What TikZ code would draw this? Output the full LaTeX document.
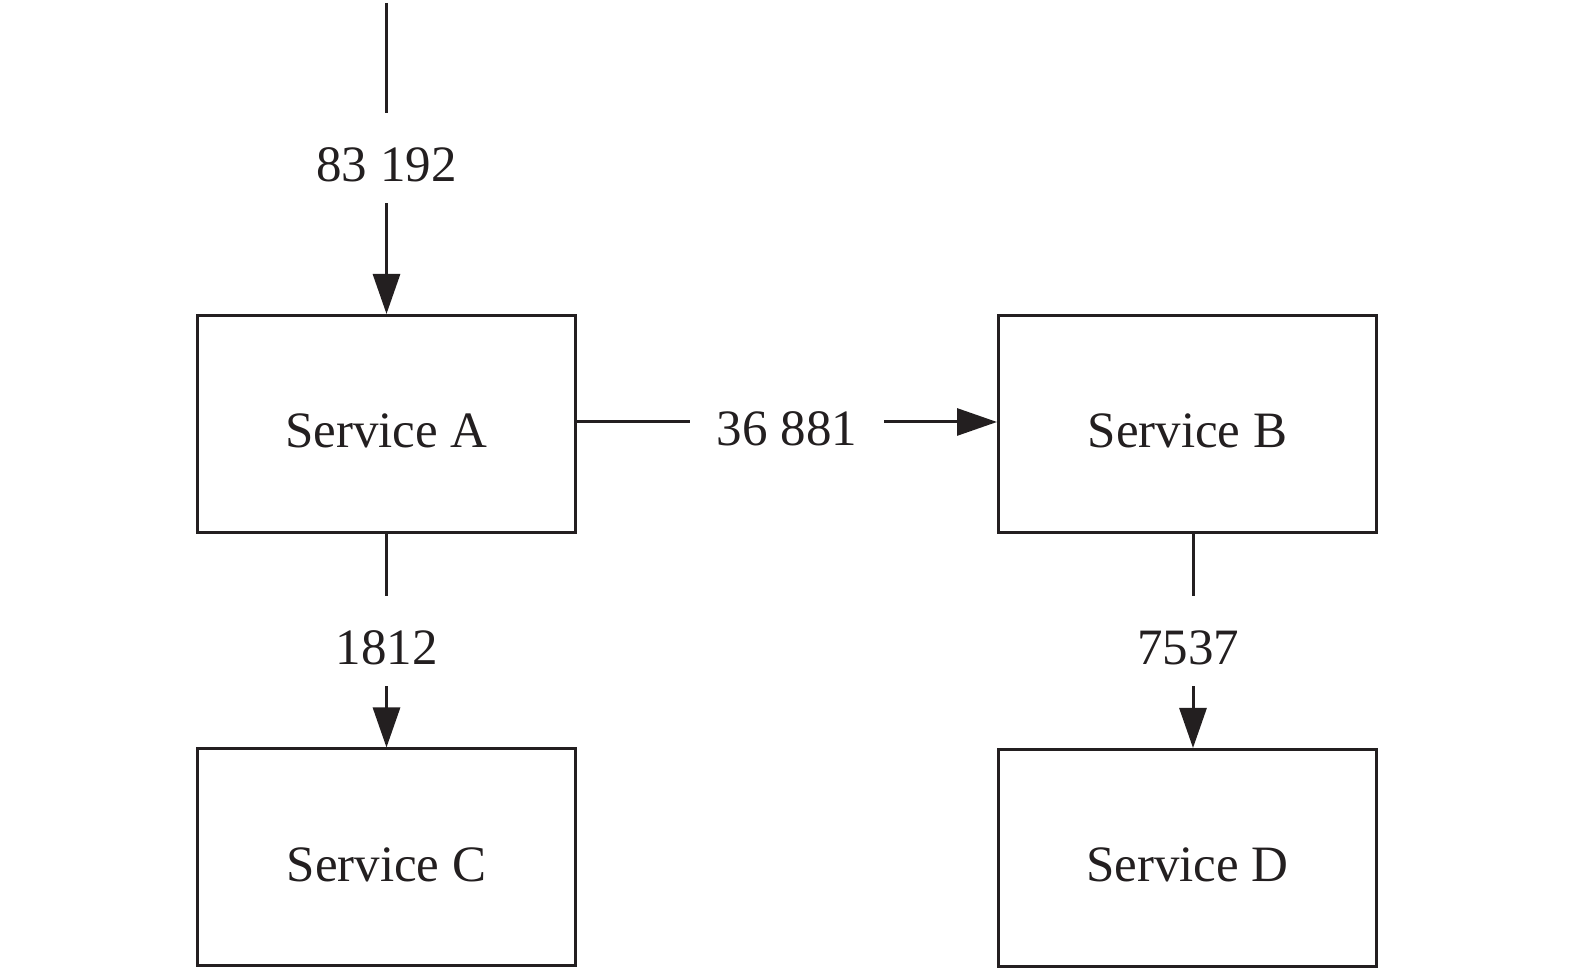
\documentclass[tikz,border=0pt]{standalone}
\usepackage{fontspec}
\setmainfont{Liberation Serif}
\usetikzlibrary{arrows.meta,calc}
\definecolor{ink}{HTML}{231F20}
\begin{document}
\begin{tikzpicture}[x=1pt,y=1pt,
  svc/.style={draw=ink, line width=3pt, minimum width=378pt, minimum height=217pt, inner sep=0pt, text height=48pt, text depth=0pt, text=ink, font=\fontsize{51}{60}\selectfont},
  conn/.style={draw=ink, line width=3pt, -{Triangle[length=40pt,width=27pt]}},
  lbl/.style={fill=white, inner xsep=27pt, inner ysep=21.5pt, text height=47pt, text depth=0pt, text=ink, font=\fontsize{51}{60}\selectfont}]
\useasboundingbox (0,0) rectangle (1575,973);
\node[svc] (A) at (386.5,549) {Service A};
\node[svc] (B) at (1187.5,549) {Service B};
\node[svc] (C) at (386.5,115.5) {Service C};
\node[svc] (D) at (1187.5,115) {Service D};
\coordinate (in) at (386.5,970);
\draw[conn] (in) -- node[lbl] {83 192} (A.north);
\draw[conn] (A.east |- 0,551) -- node[lbl] {36 881} (B.west |- 0,551);
\draw[conn] (A.south) -- node[lbl] {1812} (C.north);
\draw[conn] ($(B.south)+(5.5,0)$) -- node[lbl, xshift=-5pt] {7537} ($(D.north)+(5.5,0)$);
\end{tikzpicture}
\end{document}
